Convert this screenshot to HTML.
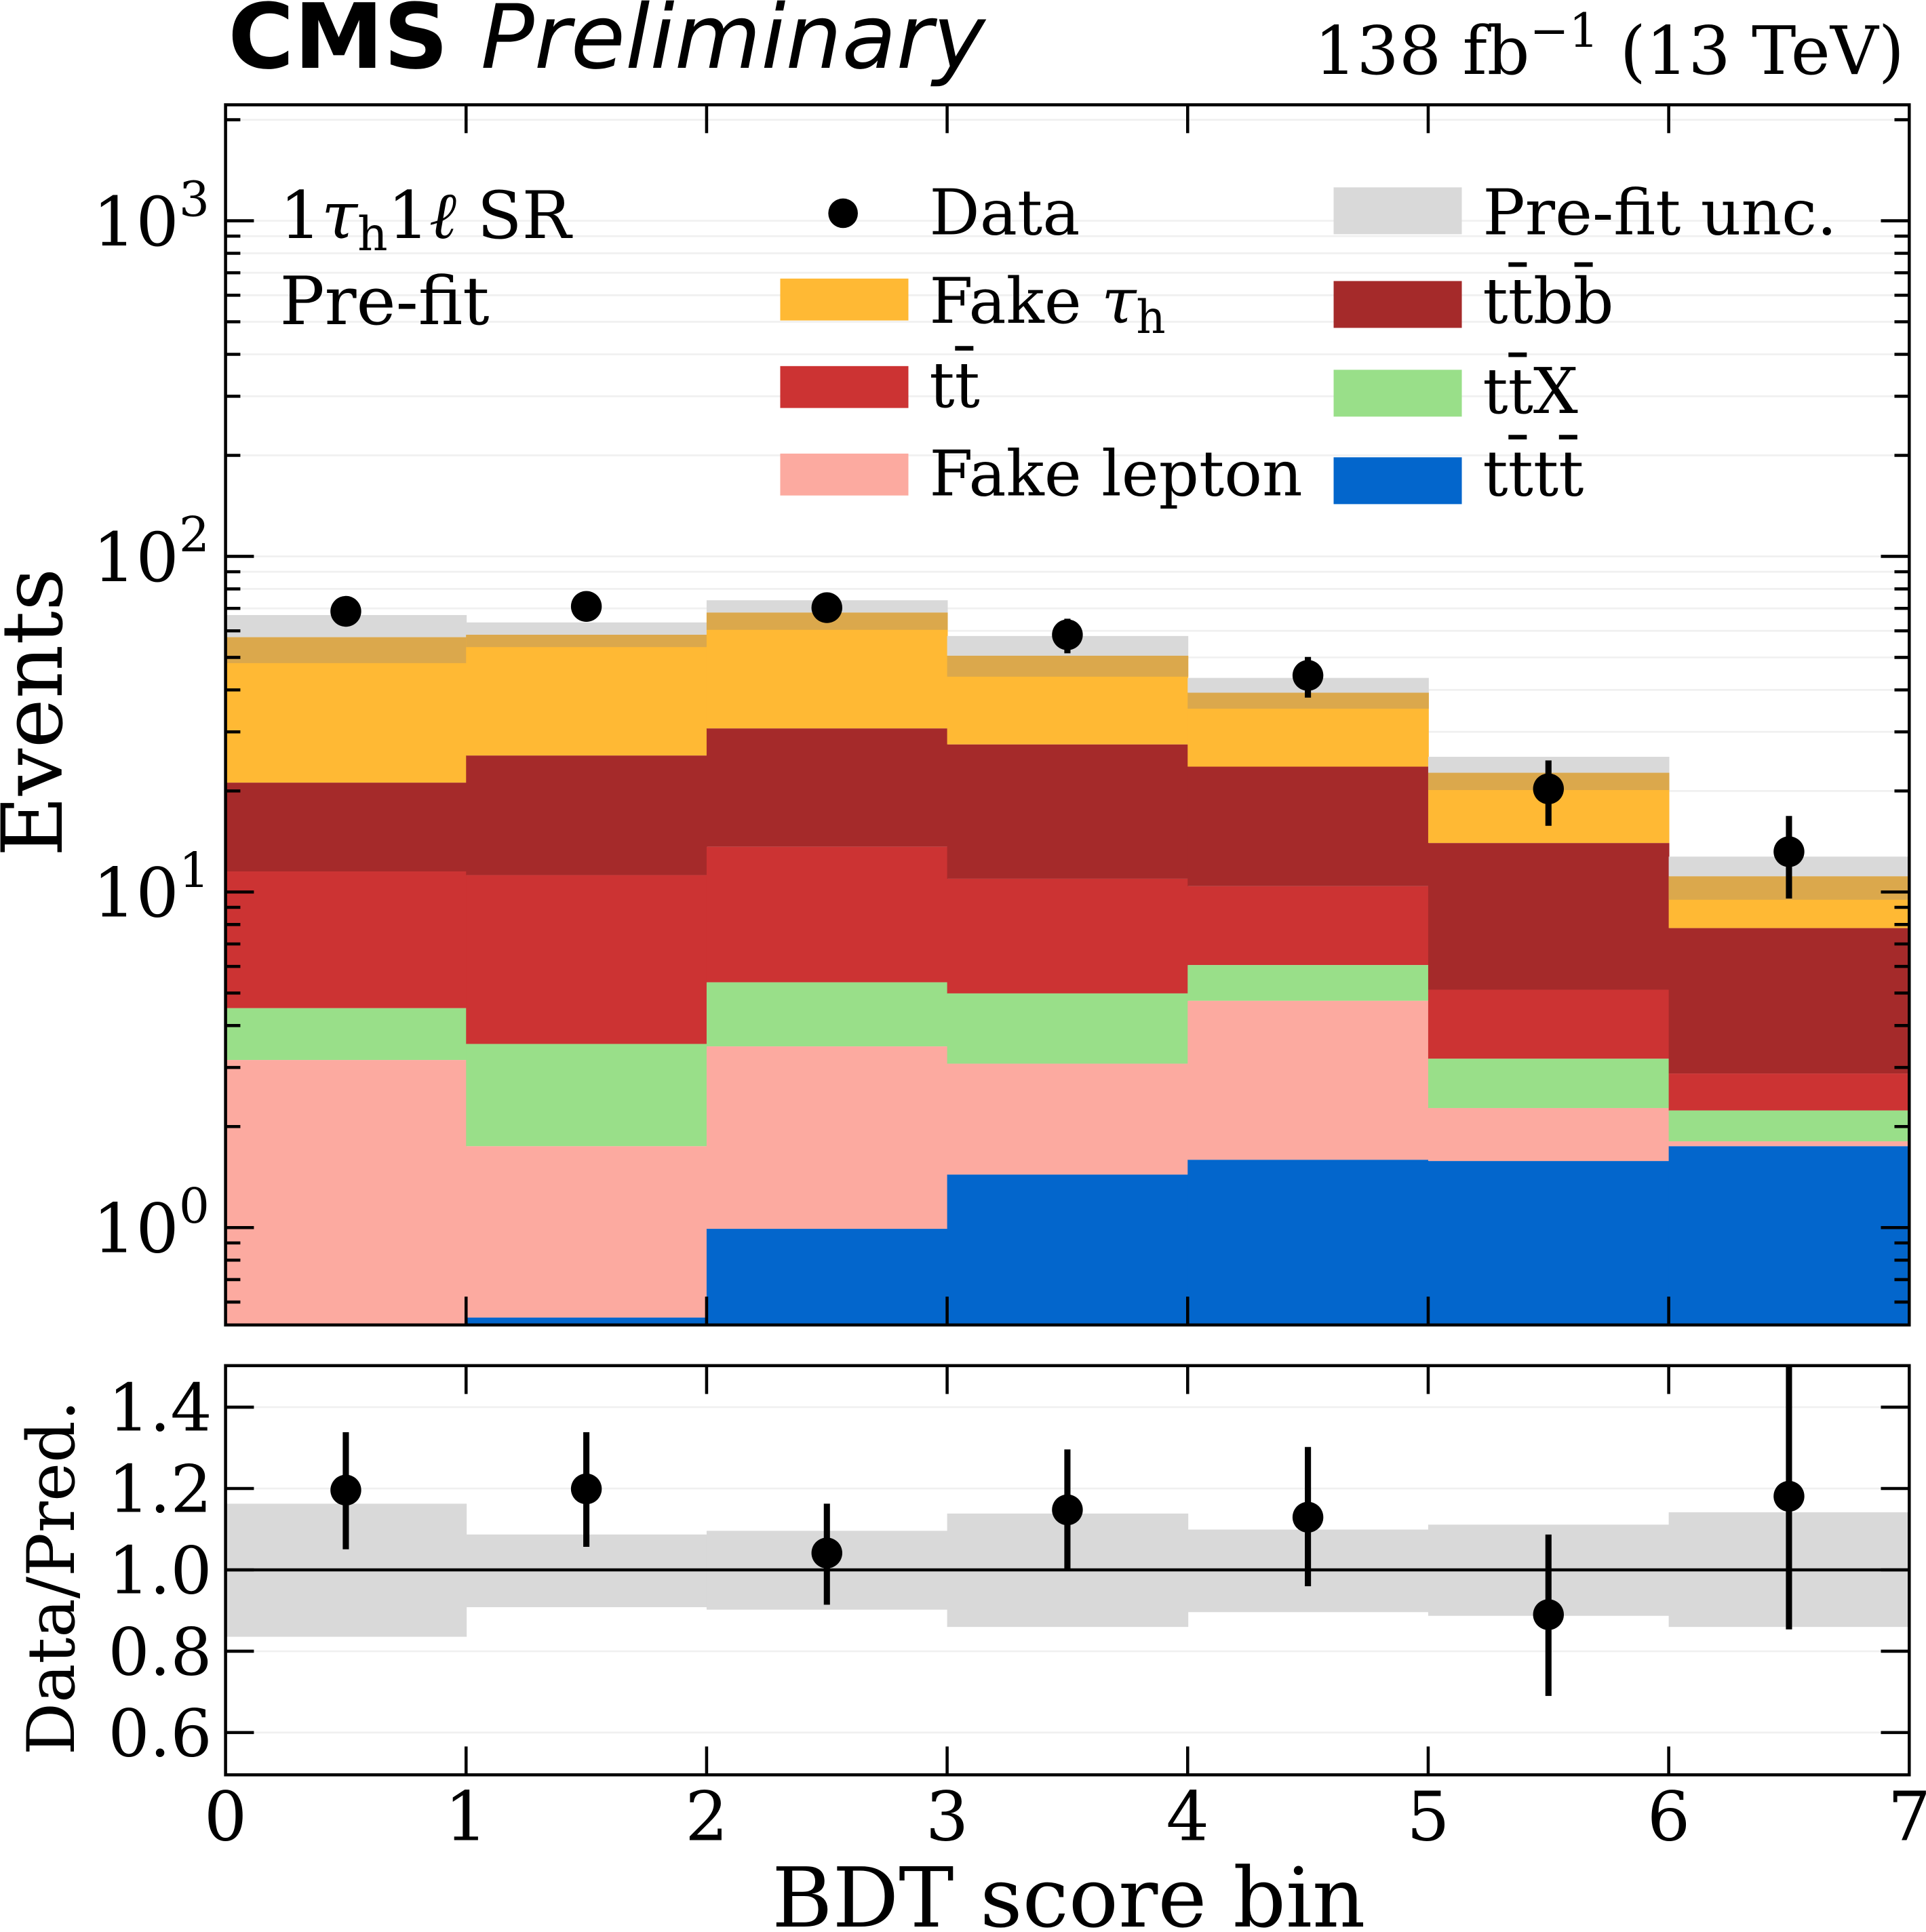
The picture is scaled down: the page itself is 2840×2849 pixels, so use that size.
<!DOCTYPE html>
<html><head><meta charset="utf-8"><style>
html,body{margin:0;padding:0;background:#fff}
svg{display:block}
text{font-family:"DejaVu Serif","Liberation Serif",serif;fill:#000}
</style></head><body>
<svg width="2840" height="2849" viewBox="0 0 1562.6 1567.5" xmlns="http://www.w3.org/2000/svg">
<g id="grid" stroke="#f0f0f0" stroke-width="1.5">
</g>
<g id="stack"></g>
<g id="ratio"></g>
<g id="axes"></g>
<text x="185" y="55" style="font-family:'DejaVu Sans',sans-serif;font-weight:bold;font-size:73px">CMS</text>
<text x="390" y="55" style="font-family:'DejaVu Sans',sans-serif;font-style:italic;font-size:72px">Preliminary</text>
<text x="1545" y="60" text-anchor="end" style="font-size:54px">138 fb<tspan dy="-22" font-size="38">−1</tspan><tspan dy="22"> (13 TeV)</tspan></text>
<text x="227" y="193" style="font-size:53px">1<tspan font-style="italic">τ</tspan><tspan font-size="38" dy="10">h</tspan><tspan dy="-10">1</tspan><tspan font-style="italic">ℓ</tspan> SR</text>
<text x="227" y="263" style="font-size:54px">Pre-fit</text>
<circle cx="684" cy="173" r="12"/>
<text x="754" y="190" style="font-size:51px">Data</text>
<rect x="633" y="226" width="104" height="34" fill="#ffb934"/>
<text x="754" y="262" style="font-size:51px">Fake <tspan font-style="italic">τ</tspan><tspan font-size="37" dy="8">h</tspan></text>
<rect x="633" y="297" width="104" height="34" fill="#cc3333"/>
<text x="754" y="330" style="font-size:51px">tt̄</text>
<rect x="633" y="368" width="104" height="34" fill="#fcaaa0"/>
<text x="754" y="402" style="font-size:51px">Fake lepton</text>
<rect x="1082" y="152" width="104" height="38" fill="#d9d9d9"/>
<text x="1203" y="190" style="font-size:51px">Pre-fit unc.</text>
<rect x="1082" y="228" width="104" height="38" fill="#a52a2a"/>
<text x="1203" y="262" style="font-size:51px">tt̄bb̄</text>
<rect x="1082" y="300" width="104" height="38" fill="#99df89"/>
<text x="1203" y="335" style="font-size:51px">tt̄X</text>
<rect x="1082" y="371" width="104" height="38" fill="#0366cc"/>
<text x="1203" y="402" style="font-size:51px">tt̄tt̄</text>
<text transform="translate(50,578) rotate(-90)" text-anchor="middle" style="font-size:68px">Events</text>
<text transform="translate(60,1280) rotate(-90)" text-anchor="middle" style="font-size:53px">Data/Pred.</text>
<text x="867" y="1563" text-anchor="middle" style="font-size:67px">BDT score bin</text>
</svg>
<script>
const NS="http://www.w3.org/2000/svg";
function el(p,t,a){const e=document.createElementNS(NS,t);for(const k in a)e.setAttribute(k,a[k]);document.getElementById(p).appendChild(e);return e;}
const X0=183,X1=1549,bw=(X1-X0)/7,T=85,B=1075,RT=1108,RB=1440;
const yv=v=>996-272.3*Math.log10(v);
for(let d=-1;d<=3;d++)for(let m=1;m<=9;m++){const y=yv(m*Math.pow(10,d));if(y>T&&y<B)el('grid','line',{x1:X0,x2:X1,y1:y,y2:y});}
[0.6,0.8,1.2,1.4].forEach(v=>{const y=1273.7-(v-1)*330;el('grid','line',{x1:X0,x2:X1,y1:y,y2:y});});
const S=[
[499,517,538,635,707,818,860,1075],
[505,515,525,613,710,847,930,1069],
[487,497,511,591,687,797,849,997],
[516,532,549,604,713,806,863,953],
[550,562,575,622,719,783,812,941],
[614,627,641,684,803,859,899,942],
[695,711,730,753,871,901,926,930]];
const D=[[496,488,504],[492,484,500],[493,485,501],[515,502,530],[548,533,566],[640,617,670],[691,662,729]];
const R=[[1209,1162,1257,1220,1328],[1208,1162,1255,1245,1304],[1260,1220,1302,1242,1306],[1225,1176,1274,1228,1320],[1231,1174,1287,1241,1308],[1310,1245,1376,1237,1311],[1214,1108,1322,1227,1320]];
S.forEach((s,i)=>{const x=X0+i*bw,w=bw+0.5;
 const r=(y1,y2,c)=>{if(y2>y1)el('stack','rect',{x:x,y:y1,width:w,height:y2-y1,fill:c});};
 r(s[1],s[3],'#ffb934');r(s[3],s[4],'#a52a2a');r(s[4],s[5],'#cc3333');r(s[5],s[6],'#99df89');r(s[6],s[7],'#fcaaa0');r(s[7],B,'#0366cc');
 r(s[0],s[1],'#d9d9d9');r(s[1],s[2],'#dba84c');
 const cx=x+bw/2,d=D[i];
 el('stack','line',{x1:cx,x2:cx,y1:d[1],y2:d[2],stroke:'#000','stroke-width':5});
 el('stack','circle',{cx:cx,cy:d[0],r:12.5});
 const q=R[i];
 el('ratio','rect',{x:x,y:q[3],width:w,height:q[4]-q[3],fill:'#d9d9d9'});
});
el('ratio','line',{x1:X0,x2:X1,y1:1273.7,y2:1273.7,stroke:'#000','stroke-width':2.5});
R.forEach((q,i)=>{const cx=X0+(i+.5)*bw;
 el('ratio','line',{x1:cx,x2:cx,y1:q[1],y2:q[2],stroke:'#000','stroke-width':5});
 el('ratio','circle',{cx:cx,cy:q[0],r:12.5});});
const A='axes',sk={stroke:'#000','stroke-width':2.5};
el(A,'rect',{x:X0,y:T,width:X1-X0,height:B-T,fill:'none',...sk});
el(A,'rect',{x:X0,y:RT,width:X1-X0,height:RB-RT,fill:'none',...sk});
for(let d=-1;d<=3;d++)for(let m=1;m<=9;m++){const y=yv(m*Math.pow(10,d));if(y>T+2&&y<B-2){const L=m==1?23:12;
 el(A,'line',{x1:X0,x2:X0+L,y1:y,y2:y,...sk});el(A,'line',{x1:X1,x2:X1-L,y1:y,y2:y,...sk});}}
[0,1,2,3].forEach(d=>{const t=el(A,'text',{x:170,y:yv(Math.pow(10,d))+20,'text-anchor':'end','font-size':55});t.innerHTML='10<tspan dy="-24" font-size="39">'+d+'</tspan>';});
[0.6,0.8,1.0,1.2,1.4].forEach(v=>{const y=1273.7-(v-1)*330;
 el(A,'line',{x1:X0,x2:X0+23,y1:y,y2:y,...sk});el(A,'line',{x1:X1,x2:X1-23,y1:y,y2:y,...sk});
 const t=el(A,'text',{x:172,y:y+19,'text-anchor':'end','font-size':53});t.textContent=v.toFixed(1);});
for(let i=0;i<=7;i++){const x=X0+i*bw;
 if(i>0&&i<7){[[T,T+23],[B,B-23],[RT,RT+23],[RB,RB-23]].forEach(p=>el(A,'line',{x1:x,x2:x,y1:p[0],y2:p[1],...sk}));}
 const t=el(A,'text',{x:x,y:1493,'text-anchor':'middle','font-size':55});t.textContent=i;}
</script>
</body></html>
